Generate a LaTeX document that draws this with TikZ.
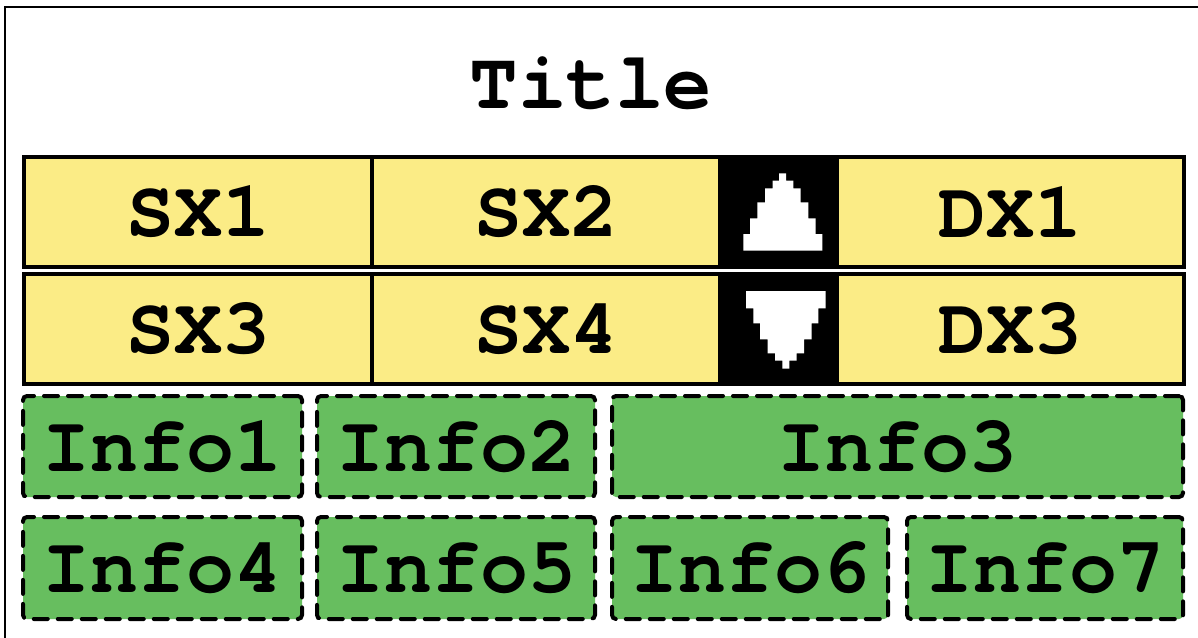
\documentclass[tikz,border=0pt]{standalone}
\usepackage{fontspec}
\setmonofont{TeX Gyre Cursor}
\definecolor{cellyellow}{HTML}{FBEC86}
\definecolor{cellgreen}{HTML}{67BE5F}
\begin{document}
\begin{tikzpicture}[x=0.5pt,y=-0.5pt,
  lbl/.style={font=\ttfamily\bfseries\fontsize{40}{42}\selectfont, text=black},
  ycell/.style={lbl, draw=black, line width=2pt, fill=cellyellow, inner sep=0pt, outer sep=0pt, minimum height=55pt},
  bcell/.style={draw=black, line width=2pt, fill=black, inner sep=0pt, outer sep=0pt, minimum height=55pt, minimum width=58.5pt},
  gcell/.style={lbl, draw=black, line width=2pt, fill=cellgreen, rounded corners=2pt, line cap=round, dash pattern=on 7pt off 5pt, inner sep=0pt, outer sep=0pt},
  tri/.style={fill=white, draw=none}]
\useasboundingbox (0,0) rectangle (1198,637);
\clip (0,0) rectangle (1198,637);
\fill[white] (0,0) rectangle (1198,637);
\draw[line width=1pt, black] (5,7) rectangle (1240,680);

\node[lbl, font=\ttfamily\bfseries\fontsize{40.5}{42}\selectfont] (title) at (591,83) {Title};

% yellow rows
\node[ycell, minimum width=174pt] (sx1) at (198,212) {SX1};
\node[ycell, minimum width=174pt] (sx2) at (546,212) {SX2};
\node[bcell] (up) at (778.5,212) {};
\node[ycell, minimum width=173.5pt] (dx1) at (1010.5,212) {DX1};
\node[ycell, minimum width=174pt] (sx3) at (198,329) {SX3};
\node[ycell, minimum width=174pt] (sx4) at (546,329) {SX4};
\node[bcell] (down) at (778.5,329) {};
\node[ycell, minimum width=173.5pt] (dx3) at (1010.5,329) {DX3};

% arrow glyphs
\fill[tri] (779,173.3) -- (786,173.3) -- (786,180.7) -- (793.3,180.7) -- (793.3,188.3) -- (800.7,188.3) -- (800.7,202.3) -- (808.3,202.3) -- (808.3,218.3) -- (815.7,218.3) -- (815.7,234) -- (822.3,234) -- (822.3,250.7) -- (743.3,250.7) -- (743.3,234) -- (750,234) -- (750,218.3) -- (757.3,218.3) -- (757.3,202.3) -- (765,202.3) -- (765,188.3) -- (772.7,188.3) -- (772.7,180.7) -- (779,180.7) -- cycle;
\fill[tri] (746,291) -- (825.7,291) -- (825.7,308.3) -- (818.3,308.3) -- (818.3,323.3) -- (811.7,323.3) -- (811.7,339.3) -- (804,339.3) -- (804,353.3) -- (796.7,353.3) -- (796.7,360.7) -- (789.3,360.7) -- (789.3,368.7) -- (782.3,368.7) -- (782.3,360.7) -- (775,360.7) -- (775,353.3) -- (767.7,353.3) -- (767.7,339.3) -- (760,339.3) -- (760,323.3) -- (753.3,323.3) -- (753.3,308.3) -- (746,308.3) -- cycle;

% green rows
\node[gcell, minimum width=139.5pt, minimum height=50.5pt] (info1) at (162.5,446.5) {Info1};
\node[gcell, minimum width=139pt, minimum height=50.5pt] (info2) at (456,446.5) {Info2};
\node[gcell, minimum width=285.5pt, minimum height=50.5pt] (info3) at (897.5,446.5) {Info3};
\node[gcell, minimum width=139.5pt, minimum height=51pt] (info4) at (162.5,568) {Info4};
\node[gcell, minimum width=139pt, minimum height=51pt] (info5) at (456,568) {Info5};
\node[gcell, minimum width=138pt, minimum height=51pt] (info6) at (750,568) {Info6};
\node[gcell, minimum width=138pt, minimum height=51pt] (info7) at (1045,568) {Info7};
\end{tikzpicture}
\end{document}
